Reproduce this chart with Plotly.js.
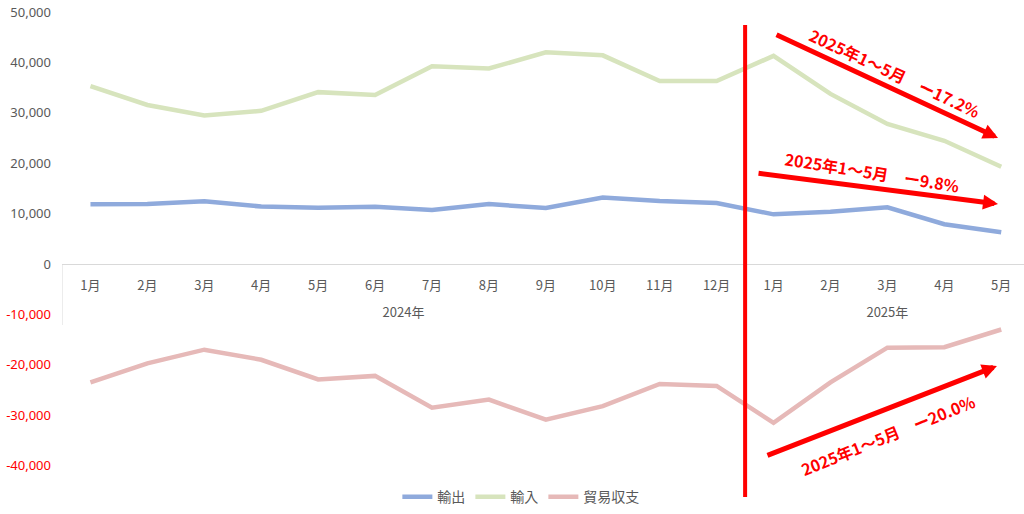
<!DOCTYPE html>
<html>
<head>
<meta charset="utf-8">
<script src="https://cdn.plot.ly/plotly-3.0.1.min.js"></script>
<style>html,body{margin:0;padding:0;background:#fff;}#chart{width:1024px;height:514px;}</style>
</head>
<body>
<div id="chart"></div>
<script>
// ---- data ----
const years  = ["2024年","2024年","2024年","2024年","2024年","2024年","2024年","2024年","2024年","2024年","2024年","2024年","2025年","2025年","2025年","2025年","2025年"];
const months = ["1月","2月","3月","4月","5月","6月","7月","8月","9月","10月","11月","12月","1月","2月","3月","4月","5月"];
const exportsVals = [11850, 11900, 12450, 11400, 11150, 11350, 10700, 11900, 11100, 13200, 12500, 12100, 9850, 10350, 11250, 7900, 6300];
const importsVals = [35300, 31550, 29450, 30400, 34100, 33550, 39250, 38800, 42000, 41400, 36300, 36300, 41300, 33750, 27800, 24450, 19300];
const balanceVals = [-23500, -19700, -17000, -19000, -22900, -22200, -28500, -26900, -30900, -28200, -23800, -24200, -31500, -23500, -16600, -16500, -13000];
const seriesNames = ["輸出", "輸入", "貿易収支"];
const yTickVals = [50000, 40000, 30000, 20000, 10000, 0, -10000, -20000, -30000, -40000];
const notes = ["2025年1～5月　ー17.2%", "2025年1～5月　ー9.8%", "2025年1～5月　ー20.0%"];

const cjk = '"Noto Sans CJK JP", "Noto Sans", sans-serif';
const fmt = v => v.toLocaleString('en-US');
const yTickText = yTickVals.map(v => v < 0 ? '<span style="color:#ff0000">' + fmt(v) + '</span>' : fmt(v));

// category positions (index) and year groups
const idx = months.map((m, i) => i);
const yearNames = [...new Set(years)];
const yearCenters = yearNames.map(y => {
  const ii = idx.filter(i => years[i] === y);
  return (ii[0] + ii[ii.length - 1]) / 2;
});
const yearBounds = [-0.5].concat(yearNames.slice(0, -1).map(y => {
  const ii = idx.filter(i => years[i] === y);
  return ii[ii.length - 1] + 0.5;
}));

const colors = ["#8faadc", "#d7e4bd", "#e6b9b8"];
const vals = [exportsVals, importsVals, balanceVals];
const traces = vals.map((v, i) => ({
  type: 'scatter', mode: 'lines', x: idx, y: v, name: seriesNames[i],
  line: {color: colors[i], width: 4.5}, hoverinfo: 'skip'
}));
// invisible carrier trace so the year-group axis is drawn
traces.push({type: 'scatter', mode: 'none', x: yearCenters, y: yearCenters.map(() => 0),
  xaxis: 'x2', showlegend: false, hoverinfo: 'skip'});

const yMin = -44840, yMax = 50000;
const zeroPos = (0 - yMin) / (yMax - yMin);
const xRange = [-0.5, 16.4];
const pxPerUnit = 478 / (yMax - yMin);
const divBottom = -61 / pxPerUnit; // divider length below axis in data units

const layout = {
  width: 1024, height: 514,
  margin: {l: 62, r: 0, t: 12, b: 24},
  paper_bgcolor: '#ffffff', plot_bgcolor: '#ffffff',
  showlegend: true,
  legend: {orientation: 'h', x: 0.477, xanchor: 'center', y: -0.015, yanchor: 'middle',
           font: {family: cjk, size: 14, color: '#595959'}, itemwidth: 30, bgcolor: 'rgba(0,0,0,0)'},
  xaxis: {
    range: xRange, anchor: 'free', position: zeroPos,
    showline: true, linecolor: '#d9d9d9', linewidth: 1,
    showgrid: false, zeroline: false, ticks: '',
    tickmode: 'array', tickvals: idx, ticktext: months,
    tickfont: {family: cjk, size: 13, color: '#595959'},
    ticklabelstandoff: 9, fixedrange: true
  },
  xaxis2: {
    range: xRange, overlaying: 'x', anchor: 'free', position: zeroPos, side: 'bottom',
    showline: false, showgrid: false, zeroline: false, ticks: '',
    tickmode: 'array', tickvals: yearCenters, ticktext: yearNames,
    tickfont: {family: cjk, size: 13, color: '#595959'},
    ticklabelstandoff: 39, fixedrange: true
  },
  yaxis: {
    range: [yMin, yMax], showgrid: false, zeroline: false, showline: false,
    tickvals: yTickVals, ticktext: yTickText, ticks: '',
    tickfont: {family: '"Noto Sans", sans-serif', size: 13, color: '#595959'},
    ticklabelstandoff: 10, fixedrange: true
  },
  shapes: yearBounds.map(b => ({
      type: 'line', xref: 'x', yref: 'y', x0: b, x1: b, y0: 0, y1: divBottom,
      line: {color: '#d9d9d9', width: 1}
    })).concat([
    {type: 'line', xref: 'paper', yref: 'paper', x0: 0.7101, x1: 0.7101, y0: -0.0146, y1: 0.973,
     line: {color: '#ff0000', width: 4}}
  ]),
  annotations: [
    {xref: 'paper', yref: 'paper', x: 0.9730, y: 0.7364, ax: -223, ay: -104, axref: 'pixel', ayref: 'pixel',
     showarrow: true, arrowcolor: '#ff0000', arrowwidth: 5, arrowhead: 2, arrowsize: 0.6, standoff: 0, text: ''},
    {xref: 'paper', yref: 'paper', x: 0.9730, y: 0.5983, ax: -241, ay: -31, axref: 'pixel', ayref: 'pixel',
     showarrow: true, arrowcolor: '#ff0000', arrowwidth: 5, arrowhead: 2, arrowsize: 0.6, standoff: 0, text: ''},
    {xref: 'paper', yref: 'paper', x: 0.9719, y: 0.2594, ax: -231, ay: 90, axref: 'pixel', ayref: 'pixel',
     showarrow: true, arrowcolor: '#ff0000', arrowwidth: 5, arrowhead: 2, arrowsize: 0.6, standoff: 0, text: ''},
    {xref: 'paper', yref: 'paper', x: 0.8659, y: 0.8724, xanchor: 'center', yanchor: 'middle', showarrow: false, textangle: 25, text: notes[0],
     font: {family: cjk, size: 16, color: '#ff0000', weight: 'bold'}},
    {xref: 'paper', yref: 'paper', x: 0.8420, y: 0.6653, xanchor: 'center', yanchor: 'middle', showarrow: false, textangle: 9, text: notes[1],
     font: {family: cjk, size: 16, color: '#ff0000', weight: 'bold'}},
    {xref: 'paper', yref: 'paper', x: 0.8586, y: 0.1151, xanchor: 'center', yanchor: 'middle', showarrow: false, textangle: -22, text: notes[2],
     font: {family: cjk, size: 16, color: '#ff0000', weight: 'bold'}}
  ]
};

Plotly.newPlot('chart', traces, layout, {displayModeBar: false, staticPlot: true});
</script>
</body>
</html>
